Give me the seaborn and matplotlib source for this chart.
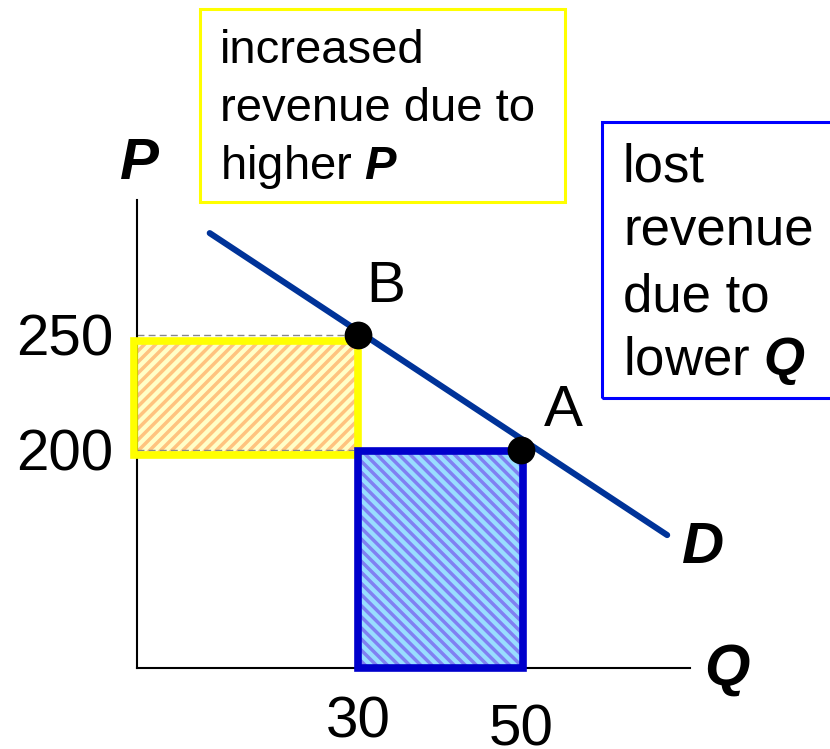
import numpy as np
import pandas as pd
import matplotlib.pyplot as plt
import matplotlib.patches as mpatches
import seaborn as sns

# demand curve (Q, P) end points
demand_q = [11.8, 67.9]
demand_p = [294.3, 163.0]

# the two marked points
point_names = ['B', 'A']
point_q = [30, 50]
point_p = [250, 200]

price_ticks = [200, 250]
qty_ticks = [30, 50]

# shaded revenue areas
gain_q = [2.5, 30]
gain_p = [197.8, 247.4]
loss_q = [30, 50.2]
loss_p = [105.2, 199.6]

W, H = 830, 749

sns.set_theme(style='white')
plt.rcParams['font.family'] = ['Liberation Sans', 'DejaVu Sans']
plt.rcParams['text.color'] = 'black'
plt.rcParams['ytick.color'] = 'black'
plt.rcParams['mathtext.fontset'] = 'custom'
plt.rcParams['mathtext.rm'] = 'Liberation Sans'
plt.rcParams['mathtext.bfit'] = 'Liberation Sans:italic:bold'
plt.rcParams['hatch.linewidth'] = 2.5


def fx(px):
    return px / W


def fy(py):
    return 1 - py / H


fig = plt.figure(figsize=(W / 100, H / 100), dpi=100)
ax = fig.add_axes([fx(137), fy(668), fx(690) - fx(137), fy(200) - fy(668)])
ax.set_xlim(2.88, 70.7)
ax.set_ylim(105.2, 308.7)

# revenue rectangles: hatched fill, then thick outline
ax.add_patch(mpatches.Rectangle((gain_q[0], gain_p[0]), gain_q[1] - gain_q[0], gain_p[1] - gain_p[0],
                                facecolor='#FFFFC8', edgecolor='#FFC37F', hatch='///', lw=0,
                                clip_on=False, zorder=1))
ax.add_patch(mpatches.Rectangle((loss_q[0], loss_p[0]), loss_q[1] - loss_q[0], loss_p[1] - loss_p[0],
                                facecolor='#99DDFF', edgecolor='#8080F2', hatch='\\\\\\', lw=0,
                                clip_on=False, zorder=1))

ax.hlines(price_ticks, 2.88, qty_ticks[0], colors='#888888', linestyles=(0, (5, 3)), lw=1, zorder=2)

ax.add_patch(mpatches.Rectangle((gain_q[0], gain_p[0]), gain_q[1] - gain_q[0], gain_p[1] - gain_p[0],
                                fill=False, edgecolor='#FFFF00', lw=5.5, joinstyle='miter',
                                clip_on=False, zorder=3))
ax.add_patch(mpatches.Rectangle((loss_q[0], loss_p[0]), loss_q[1] - loss_q[0], loss_p[1] - loss_p[0],
                                fill=False, edgecolor='#0000CC', lw=5.5, joinstyle='miter',
                                clip_on=False, zorder=3))

sns.lineplot(x=demand_q, y=demand_p, ax=ax, color='#003399', lw=4.4, zorder=4)
sns.scatterplot(x=point_q, y=point_p, ax=ax, s=400, color='black', linewidth=0, zorder=5, clip_on=False)

# spines and ticks
sns.despine(ax=ax)
for s in ['left', 'bottom']:
    ax.spines[s].set_color('black')
    ax.spines[s].set_linewidth(1.5)
ax.set_yticks(price_ticks)
ax.set_yticklabels([str(v) for v in price_ticks], fontsize=42, color='black')
ax.tick_params(axis='y', length=0, pad=17)
ax.set_xticks(qty_ticks)
ax.set_xticklabels([])
ax.tick_params(axis='x', length=6, width=1, color='#888888', direction='out')
ax.set_xlabel('')
ax.set_ylabel('')

# quantity labels sit a little unevenly in the original
fig.text(fx(358), fy(695), str(qty_ticks[0]), fontsize=42, ha='center', va='top')
fig.text(fx(521), fy(703), str(qty_ticks[1]), fontsize=42, ha='center', va='top')

# point letters
fig.text(fx(386), fy(287), point_names[0], fontsize=42, ha='center', va='center')
fig.text(fx(563), fy(411), point_names[1], fontsize=42, ha='center', va='center')

# axis letters
big = dict(fontsize=42, fontweight='bold', fontstyle='italic', ha='center', va='center')
fig.text(fx(139), fy(164), 'P', **big)
fig.text(fx(727), fy(670), 'Q', **big)
fig.text(fx(703), fy(548), 'D', **big)

# note boxes
fig.add_artist(mpatches.Rectangle((fx(200), fy(202)), fx(565) - fx(200), fy(9) - fy(202),
                                  transform=fig.transFigure, fill=False, ec='#FFFF00', lw=2.2))
for yb, line in zip([63, 121, 179], ['increased', 'revenue due to', r'higher $\mathbfit{P}$']):
    fig.text(fx(220), fy(yb), line, fontsize=34, ha='left', va='baseline')

fig.add_artist(mpatches.Rectangle((fx(602), fy(398)), fx(845) - fx(602), fy(122) - fy(398),
                                  transform=fig.transFigure, fill=False, ec='#0000FF', lw=2.2))
for yb, line in zip([182, 246, 311, 375], ['lost', 'revenue', 'due to', r'lower $\mathbfit{Q}$']):
    fig.text(fx(623), fy(yb), line, fontsize=38, ha='left', va='baseline')

fig.savefig('out.png', dpi=100)
